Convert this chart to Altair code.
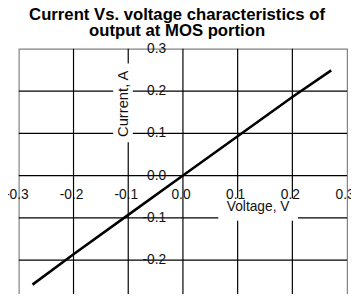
import altair as alt
import pandas as pd

# Data
voltage = [-0.275, -0.2, -0.1, 0.0, 0.1, 0.2, 0.271]
current = [-0.258, -0.186, -0.093, 0.0, 0.093, 0.186, 0.249]

grid_values = [-0.2, -0.1, 0.0, 0.1, 0.2]
tick_values = [-0.3, -0.2, -0.1, 0.0, 0.1, 0.2, 0.3]
tick_labels = ["-0.3", "-0.2", "-0.1", "0.0", "0.1", "0.2", "0.3"]

title_lines = ["Current Vs. voltage characteristics of", "output at MOS portion"]
x_title = "Voltage, V"
y_title = "Current, A"

FONT = "Liberation Sans"
W, H = 334, 258

xs = alt.Scale(domain=[-0.3, 0.3], nice=False, zero=False)
ys = alt.Scale(domain=[-0.3, 0.3], nice=False, zero=False)

line_df = pd.DataFrame({"v": voltage, "i": current})
grid_df = pd.DataFrame({"g": grid_values})
tick_df = pd.DataFrame({"t": tick_values, "lab": tick_labels, "zero": [0.0] * len(tick_values)})

vgrid = alt.Chart(grid_df).mark_rule(color="black", strokeWidth=1.2).encode(
    x=alt.X("g:Q", scale=xs, axis=None)
)
hgrid = alt.Chart(grid_df).mark_rule(color="black", strokeWidth=1.2).encode(
    y=alt.Y("g:Q", scale=ys, axis=None)
)

# white boxes behind axis titles
ybox = alt.Chart(pd.DataFrame({"a": [0]})).mark_rect(color="white").encode(
    x=alt.value(96), x2=alt.value(116), y=alt.value(15), y2=alt.value(95)
)
xbox = alt.Chart(pd.DataFrame({"a": [0]})).mark_rect(color="white").encode(
    x=alt.value(203), x2=alt.value(284), y=alt.value(152), y2=alt.value(175)
)

xlabels = alt.Chart(tick_df).mark_text(
    font=FONT, fontSize=14, color="#111", baseline="middle", align="center", dy=20, dx=-2
).encode(
    x=alt.X("t:Q", scale=xs, axis=None),
    y=alt.Y("zero:Q", scale=ys, axis=None),
    text="lab:N",
)
ylabels = alt.Chart(tick_df).mark_text(
    font=FONT, fontSize=14, color="#111", baseline="middle", align="right", dx=-17
).encode(
    x=alt.X("zero:Q", scale=xs, axis=None),
    y=alt.Y("t:Q", scale=ys, axis=None),
    text="lab:N",
)

xtitle = alt.Chart(pd.DataFrame({"s": [x_title]})).mark_text(
    font=FONT, fontSize=14, color="#111", align="center", baseline="middle"
).encode(x=alt.value(243.5), y=alt.value(161), text="s:N")
ytitle = alt.Chart(pd.DataFrame({"s": [y_title]})).mark_text(
    font=FONT, fontSize=15, color="#111", align="center", baseline="middle", angle=270
).encode(x=alt.value(106), y=alt.value(56), text="s:N")

line = alt.Chart(line_df).mark_line(color="black", strokeWidth=2.6).encode(
    x=alt.X("v:Q", scale=xs, axis=None),
    y=alt.Y("i:Q", scale=ys, axis=None),
)

chart = alt.layer(
    vgrid, hgrid, ybox, xbox, line, xlabels, ylabels, xtitle, ytitle
).properties(
    width=W,
    height=H,
    title=alt.Title(
        title_lines,
        font=FONT,
        fontSize=17,
        fontWeight="bold",
        color="black",
        lineHeight=16.5,
        anchor="middle",
        dx=-6,
        offset=1.5,
    ),
    autosize="none",
    padding={"left": 11, "top": 39, "right": 4, "bottom": -11},
    background="white",
).configure_view(stroke="#808080", strokeWidth=1.2)

chart.save("out.html", embed_options={"renderer": "svg", "actions": False})
